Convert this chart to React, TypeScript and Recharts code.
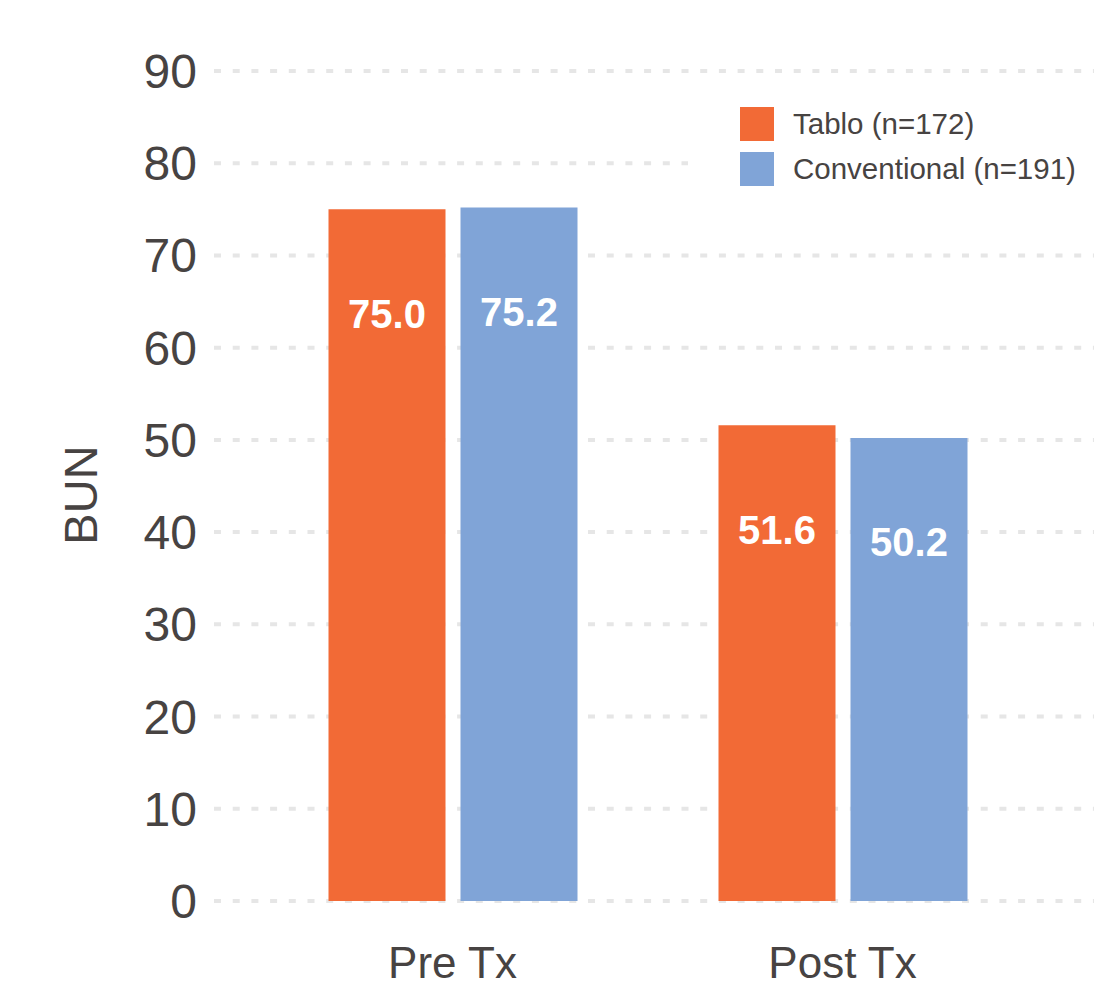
import { BarChart, Bar, XAxis, YAxis, CartesianGrid, Legend, LabelList } from 'recharts'

const categories = ['Pre Tx', 'Post Tx']
const tabloValues = [75.0, 51.6]
const conventionalValues = [75.2, 50.2]
const yTicks = [0, 10, 20, 30, 40, 50, 60, 70, 80, 90]

const seriesNames = ['Tablo (n=172)', 'Conventional (n=191)']

const ORANGE = '#F26A36'
const BLUE = '#80A4D7'
const TEXT = '#474342'
const FONT = '"Liberation Sans", Arial, sans-serif'

const data = categories.map((name, i) => ({
  name,
  tablo: tabloValues[i],
  conventional: conventionalValues[i],
}))

const renderLegend = (props: any) => {
  // keep the series order instead of the alphabetical one
  const items = [...(props.payload ?? [])].sort(
    (a: any, b: any) => seriesNames.indexOf(a.value) - seriesNames.indexOf(b.value),
  )
  return (
    <div style={{ paddingLeft: 52, paddingTop: 19, fontFamily: FONT }}>
      {items.map((entry: any) => (
        <div
          key={entry.value}
          style={{ display: 'flex', alignItems: 'center', height: 34, marginBottom: 11 }}
        >
          <span
            style={{ display: 'inline-block', width: 34, height: 34, background: entry.color }}
          />
          <span style={{ marginLeft: 19, fontSize: 29.5, color: TEXT, lineHeight: '34px' }}>
            {entry.value}
          </span>
        </div>
      ))}
    </div>
  )
}

const renderYLabel = (props: any) => {
  const vb = props.viewBox ?? { x: 0, y: 0, width: 0, height: 0 }
  const cx = 80
  const cy = vb.y + vb.height / 2 + 9
  return (
    <text
      x={cx}
      y={cy}
      transform={`rotate(-90 ${cx} ${cy})`}
      textAnchor="middle"
      dominantBaseline="central"
      fontSize={47}
      fill={TEXT}
      fontFamily={FONT}
    >
      BUN
    </text>
  )
}

export default function App() {
  return (
    <div style={{ position: 'absolute', left: 0, top: 0, background: '#fff' }}>
      <BarChart
        width={1112}
        height={984}
        data={data}
        margin={{ top: 71, right: 18, left: 0, bottom: 0 }}
        barSize={117}
        barGap={15}
      >
        <CartesianGrid
          vertical={false}
          stroke="#e6e6e6"
          strokeWidth={4}
          strokeDasharray="7 11.7"
        />
        <XAxis
          dataKey="name"
          axisLine={false}
          tickLine={false}
          tickSize={0}
          tickMargin={46}
          height={83}
          padding={{ left: 43.5, right: 56.5 }}
          tick={{ fontSize: 44, fill: TEXT, fontFamily: FONT }}
        />
        <YAxis
          domain={[0, 90]}
          ticks={yTicks}
          width={214}
          axisLine={false}
          tickLine={false}
          tickSize={0}
          tickMargin={17}
          tick={{ fontSize: 48, fill: TEXT, fontFamily: FONT }}
          label={{ content: renderYLabel }}
        />
        <Legend
          layout="vertical"
          align="center"
          verticalAlign="middle"
          content={renderLegend}
          wrapperStyle={{ left: 688, top: 88, width: 424, height: 160, background: '#fff' }}
        />
        <Bar dataKey="tablo" name={seriesNames[0]} fill={ORANGE} isAnimationActive={false}>
          <LabelList
            dataKey="tablo"
            position="insideTop"
            offset={90}
            fill="#fff"
            fontSize={40}
            fontWeight="bold"
            fontFamily={FONT}
            formatter={(v: any) => Number(v).toFixed(1)}
          />
        </Bar>
        <Bar
          dataKey="conventional"
          name={seriesNames[1]}
          fill={BLUE}
          isAnimationActive={false}
        >
          <LabelList
            dataKey="conventional"
            position="insideTop"
            offset={90}
            fill="#fff"
            fontSize={40}
            fontWeight="bold"
            fontFamily={FONT}
            formatter={(v: any) => Number(v).toFixed(1)}
          />
        </Bar>
      </BarChart>
    </div>
  )
}
